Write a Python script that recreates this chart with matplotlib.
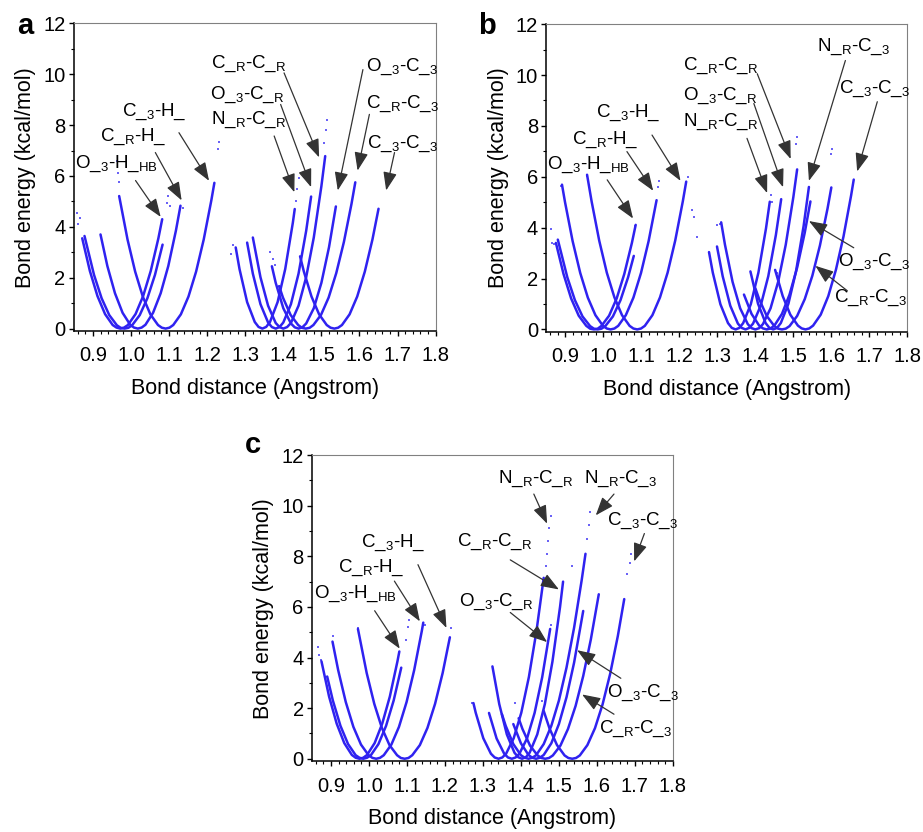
import matplotlib
matplotlib.use('Agg')
import matplotlib.pyplot as plt
from matplotlib.ticker import MultipleLocator

plt.rcParams['font.family'] = ['Liberation Sans', 'DejaVu Sans']
plt.rcParams['mathtext.fontset'] = 'custom'
plt.rcParams['mathtext.rm'] = 'Liberation Sans'

# ---------------- panel a ----------------
a_names = ['O_3-H_HB', 'O_3-H_', 'C_R-H_', 'C_3-H_',
           'N_R-C_R', 'O_3-C_R', 'C_R-C_R', 'O_3-C_3', 'C_R-C_3', 'C_3-C_3']
a_x = [
    [0.872, 0.892, 0.912, 0.932, 0.952, 0.962, 0.972, 0.982, 0.992, 1.012, 1.032, 1.052, 1.072, 1.082],
    [0.878, 0.903, 0.923, 0.943, 0.963, 0.973, 0.983, 0.993, 1.003, 1.023, 1.043, 1.063, 1.083],
    [0.920, 0.938, 0.958, 0.978, 0.998, 1.008, 1.018, 1.028, 1.038, 1.058, 1.078, 1.098, 1.118, 1.130],
    [0.969, 0.991, 1.011, 1.031, 1.051, 1.071, 1.081, 1.091, 1.101, 1.111, 1.131, 1.151, 1.171, 1.191, 1.211, 1.219],
    [1.275, 1.285, 1.305, 1.325, 1.335, 1.345, 1.355, 1.365, 1.385, 1.405, 1.425, 1.430],
    [1.305, 1.320, 1.340, 1.360, 1.370, 1.380, 1.390, 1.400, 1.420, 1.440, 1.460, 1.473],
    [1.320, 1.340, 1.360, 1.380, 1.390, 1.400, 1.410, 1.420, 1.440, 1.460, 1.480, 1.500, 1.510],
    [1.370, 1.380, 1.400, 1.420, 1.430, 1.440, 1.450, 1.460, 1.480, 1.500, 1.520, 1.538],
    [1.389, 1.399, 1.419, 1.439, 1.449, 1.459, 1.469, 1.479, 1.499, 1.519, 1.539, 1.559, 1.579, 1.589],
    [1.444, 1.454, 1.474, 1.494, 1.514, 1.524, 1.534, 1.544, 1.554, 1.574, 1.594, 1.614, 1.634, 1.650],
]
a_e = [
    [3.55, 2.27, 1.28, 0.57, 0.14, 0.04, 0.0, 0.04, 0.14, 0.57, 1.28, 2.27, 3.55, 4.30],
    [3.64, 2.11, 1.19, 0.53, 0.13, 0.03, 0.0, 0.03, 0.13, 0.53, 1.19, 2.11, 3.30],
    [3.70, 2.46, 1.39, 0.62, 0.15, 0.04, 0.0, 0.04, 0.15, 0.62, 1.39, 2.46, 3.85, 4.83],
    [5.21, 3.50, 2.24, 1.26, 0.56, 0.14, 0.035, 0.0, 0.035, 0.14, 0.56, 1.26, 2.24, 3.50, 5.04, 5.73],
    [3.19, 2.34, 1.04, 0.26, 0.065, 0.0, 0.065, 0.26, 1.04, 2.34, 4.16, 4.70],
    [3.38, 2.16, 0.96, 0.24, 0.06, 0.0, 0.06, 0.24, 0.96, 2.16, 3.84, 5.19],
    [3.58, 2.02, 0.90, 0.22, 0.06, 0.0, 0.06, 0.22, 0.90, 2.02, 3.58, 5.60, 6.78],
    [2.45, 1.80, 0.80, 0.20, 0.05, 0.0, 0.05, 0.20, 0.80, 1.80, 3.20, 4.80],
    [1.67, 1.22, 0.54, 0.14, 0.03, 0.0, 0.03, 0.14, 0.54, 1.22, 2.18, 3.40, 4.90, 5.75],
    [2.84, 2.24, 1.26, 0.56, 0.14, 0.035, 0.0, 0.035, 0.14, 0.56, 1.26, 2.24, 3.50, 4.71],
]
a_sparse_x = [0.858, 0.862, 0.866, 0.963, 0.966, 0.968, 1.094, 1.098, 1.102, 1.137, 1.228, 1.232,
              1.263, 1.268, 1.365, 1.372, 1.378, 1.433, 1.437, 1.441, 1.506, 1.512, 1.516]
a_sparse_e = [4.55, 4.10, 4.35, 6.60, 6.10, 5.75, 4.95, 5.20, 4.80, 4.75, 7.05, 7.35,
              2.95, 3.30, 3.00, 2.75, 2.50, 5.00, 5.50, 5.90, 7.30, 7.80, 8.20]

# ---------------- panel b ----------------
b_names = ['O_3-H_HB', 'O_3-H_', 'C_R-H_', 'C_3-H_', 'N_R-C_R', 'O_3-C_R', 'C_R-C_R',
           'O_3-C_3', 'N_R-C_3', 'C_R-C_3', 'C_3-C_3']
b_x = [
    [0.875, 0.895, 0.915, 0.935, 0.955, 0.965, 0.975, 0.985, 0.995, 1.015, 1.035, 1.055, 1.075, 1.085],
    [0.880, 0.905, 0.925, 0.945, 0.965, 0.975, 0.985, 0.995, 1.005, 1.025, 1.045, 1.065, 1.080],
    [0.891, 0.899, 0.919, 0.939, 0.959, 0.979, 0.999, 1.009, 1.019, 1.029, 1.039, 1.059, 1.079, 1.099, 1.119, 1.140],
    [0.957, 0.969, 0.989, 1.009, 1.029, 1.049, 1.069, 1.079, 1.089, 1.099, 1.109, 1.129, 1.149, 1.169, 1.189, 1.209, 1.218],
    [1.278, 1.288, 1.308, 1.328, 1.338, 1.348, 1.358, 1.368, 1.388, 1.408, 1.428, 1.438],
    [1.299, 1.314, 1.334, 1.354, 1.364, 1.374, 1.384, 1.394, 1.414, 1.434, 1.454, 1.468],
    [1.310, 1.320, 1.340, 1.360, 1.380, 1.390, 1.400, 1.410, 1.420, 1.440, 1.460, 1.480, 1.500, 1.510],
    [1.370, 1.390, 1.410, 1.420, 1.430, 1.440, 1.450, 1.470, 1.490, 1.510, 1.530, 1.545],
    [1.387, 1.407, 1.427, 1.437, 1.447, 1.457, 1.467, 1.487, 1.507, 1.527, 1.541],
    [1.400, 1.410, 1.430, 1.450, 1.460, 1.470, 1.480, 1.490, 1.510, 1.530, 1.550, 1.570, 1.590, 1.600],
    [1.452, 1.472, 1.492, 1.512, 1.522, 1.532, 1.542, 1.552, 1.572, 1.592, 1.612, 1.632, 1.652, 1.659],
]
b_e = [
    [3.40, 2.18, 1.22, 0.54, 0.14, 0.03, 0.0, 0.03, 0.14, 0.54, 1.22, 2.18, 3.40, 4.11],
    [3.53, 2.05, 1.15, 0.51, 0.13, 0.03, 0.0, 0.03, 0.13, 0.51, 1.15, 2.05, 2.89],
    [5.69, 5.00, 3.47, 2.22, 1.25, 0.56, 0.14, 0.035, 0.0, 0.035, 0.14, 0.56, 1.25, 2.22, 3.47, 5.08],
    [6.08, 5.03, 3.49, 2.23, 1.26, 0.56, 0.14, 0.035, 0.0, 0.035, 0.14, 0.56, 1.26, 2.23, 3.49, 5.03, 5.81],
    [3.04, 2.23, 0.99, 0.25, 0.06, 0.0, 0.06, 0.25, 0.99, 2.23, 3.97, 5.02],
    [3.26, 2.09, 0.93, 0.23, 0.06, 0.0, 0.06, 0.23, 0.93, 2.09, 3.71, 5.12],
    [4.21, 3.33, 1.87, 0.83, 0.21, 0.05, 0.0, 0.05, 0.21, 0.83, 1.87, 3.33, 5.20, 6.29],
    [1.37, 0.61, 0.15, 0.04, 0.0, 0.04, 0.15, 0.61, 1.37, 2.43, 3.80, 5.03],
    [2.28, 1.01, 0.25, 0.06, 0.0, 0.06, 0.25, 1.01, 2.28, 4.06, 5.60],
    [1.62, 1.19, 0.53, 0.13, 0.03, 0.0, 0.03, 0.13, 0.53, 1.19, 2.11, 3.30, 4.75, 5.58],
    [2.34, 1.31, 0.58, 0.15, 0.04, 0.0, 0.04, 0.15, 0.58, 1.31, 2.34, 3.65, 5.26, 5.89],
]
b_sparse_x = [0.861, 0.865, 0.871, 0.889, 0.958, 1.082, 1.143, 1.147, 1.222, 1.234, 1.238, 1.246,
              1.298, 1.306, 1.441, 1.445, 1.506, 1.510, 1.598, 1.602, 1.458, 1.462]
b_sparse_e = [3.95, 3.40, 3.35, 5.65, 6.05, 4.05, 5.60, 5.85, 6.00, 4.70, 4.40, 3.65,
              4.10, 4.15, 5.30, 5.00, 7.30, 7.58, 6.90, 7.10, 2.20, 1.90]

# ---------------- panel c ----------------
c_names = ['O_3-H_HB', 'O_3-H_', 'C_R-H_', 'C_3-H_', 'N_R-C_R', 'O_3-C_R', 'C_R-C_R',
           'N_R-C_3', 'O_3-C_3', 'C_R-C_3', 'C_3-C_3']
c_x = [
    [0.875, 0.895, 0.915, 0.935, 0.955, 0.965, 0.975, 0.985, 0.995, 1.015, 1.035, 1.055, 1.075, 1.080],
    [0.890, 0.905, 0.925, 0.945, 0.965, 0.975, 0.985, 0.995, 1.005, 1.025, 1.045, 1.065, 1.085],
    [0.904, 0.919, 0.939, 0.959, 0.979, 0.999, 1.009, 1.019, 1.029, 1.039, 1.059, 1.079, 1.099, 1.119, 1.139, 1.143],
    [0.971, 0.994, 1.014, 1.034, 1.054, 1.074, 1.084, 1.094, 1.104, 1.114, 1.134, 1.154, 1.174, 1.194, 1.213],
    [1.275, 1.281, 1.301, 1.321, 1.331, 1.341, 1.351, 1.361, 1.381, 1.401, 1.421, 1.441, 1.460],
    [1.316, 1.336, 1.356, 1.366, 1.376, 1.386, 1.396, 1.416, 1.436, 1.456, 1.477],
    [1.325, 1.343, 1.363, 1.383, 1.393, 1.403, 1.413, 1.423, 1.443, 1.463, 1.483, 1.503, 1.511],
    [1.350, 1.360, 1.380, 1.400, 1.410, 1.420, 1.430, 1.440, 1.460, 1.480, 1.500, 1.520, 1.540, 1.560, 1.570],
    [1.380, 1.400, 1.420, 1.430, 1.440, 1.450, 1.460, 1.480, 1.500, 1.520, 1.540, 1.564],
    [1.394, 1.404, 1.424, 1.444, 1.454, 1.464, 1.474, 1.484, 1.504, 1.524, 1.544, 1.564, 1.584, 1.605],
    [1.460, 1.475, 1.495, 1.515, 1.525, 1.535, 1.545, 1.555, 1.575, 1.595, 1.615, 1.635, 1.655, 1.672],
]
c_e = [
    [3.85, 2.46, 1.39, 0.62, 0.15, 0.04, 0.0, 0.04, 0.15, 0.62, 1.39, 2.46, 3.85, 4.24],
    [3.25, 2.30, 1.30, 0.58, 0.14, 0.04, 0.0, 0.04, 0.14, 0.58, 1.30, 2.30, 3.60],
    [4.63, 3.50, 2.24, 1.26, 0.56, 0.14, 0.035, 0.0, 0.035, 0.14, 0.56, 1.26, 2.24, 3.50, 5.04, 5.38],
    [5.13, 3.39, 2.17, 1.22, 0.54, 0.14, 0.03, 0.0, 0.03, 0.14, 0.54, 1.22, 2.17, 3.39, 4.80],
    [2.20, 1.82, 0.81, 0.20, 0.05, 0.0, 0.05, 0.20, 0.81, 1.82, 3.23, 5.05, 7.15],
    [1.81, 0.80, 0.20, 0.05, 0.0, 0.05, 0.20, 0.80, 1.81, 3.22, 5.13],
    [3.65, 2.16, 0.96, 0.24, 0.06, 0.0, 0.06, 0.24, 0.96, 2.16, 3.84, 6.00, 7.00],
    [1.76, 1.30, 0.58, 0.14, 0.04, 0.0, 0.04, 0.14, 0.58, 1.30, 2.30, 3.60, 5.18, 7.06, 8.10],
    [1.37, 0.61, 0.15, 0.04, 0.0, 0.04, 0.15, 0.61, 1.37, 2.43, 3.80, 5.84],
    [1.60, 1.18, 0.52, 0.13, 0.03, 0.0, 0.03, 0.13, 0.52, 1.18, 2.09, 3.27, 4.71, 6.50],
    [1.89, 1.21, 0.54, 0.13, 0.03, 0.0, 0.03, 0.13, 0.54, 1.21, 2.15, 3.36, 4.84, 6.31],
]
c_sparse_x = [0.866, 0.869, 0.873, 0.905, 0.972, 1.097, 1.102, 1.106, 1.147, 1.215, 1.270,
              1.465, 1.468, 1.471, 1.474, 1.478, 1.574, 1.578, 1.583, 1.680, 1.686, 1.690,
              1.535, 1.456, 1.384, 1.478]
c_sparse_e = [4.40, 4.10, 3.90, 4.85, 5.15, 4.70, 5.20, 5.50, 5.30, 5.15, 2.20,
              7.60, 8.10, 8.60, 9.10, 9.60, 8.70, 9.25, 9.75, 7.30, 7.75, 8.10,
              7.60, 2.30, 2.20, 5.30]

# label text for each bond type
labels = {
    'O_3-H_HB': r'O_$_\mathregular{3}$-H_$_\mathregular{HB}$',
    'C_R-H_': r'C_$_\mathregular{R}$-H_',
    'C_3-H_': r'C_$_\mathregular{3}$-H_',
    'N_R-C_R': r'N_$_\mathregular{R}$-C_$_\mathregular{R}$',
    'O_3-C_R': r'O_$_\mathregular{3}$-C_$_\mathregular{R}$',
    'C_R-C_R': r'C_$_\mathregular{R}$-C_$_\mathregular{R}$',
    'O_3-C_3': r'O_$_\mathregular{3}$-C_$_\mathregular{3}$',
    'C_R-C_3': r'C_$_\mathregular{R}$-C_$_\mathregular{3}$',
    'C_3-C_3': r'C_$_\mathregular{3}$-C_$_\mathregular{3}$',
    'N_R-C_3': r'N_$_\mathregular{R}$-C_$_\mathregular{3}$',
}

# (bond, text centre, arrow tail, arrow tip) in data coords
a_notes = [
    ('C_3-H_', (1.060, 8.53), (1.126, 7.70), (1.205, 5.81)),
    ('C_R-H_', (1.007, 7.52), (1.064, 6.92), (1.133, 5.04)),
    ('O_3-H_HB', (0.962, 6.47), (1.012, 5.82), (1.078, 4.39)),
    ('C_R-C_R', (1.308, 10.40), (1.402, 10.05), (1.494, 6.73)),
    ('O_3-C_R', (1.305, 9.20), (1.393, 8.81), (1.473, 5.56)),
    ('N_R-C_R', (1.308, 8.22), (1.376, 7.57), (1.429, 5.36)),
    ('O_3-C_3', (1.713, 10.30), (1.609, 10.18), (1.543, 5.43)),
    ('C_R-C_3', (1.713, 8.85), (1.626, 8.42), (1.595, 6.21)),
    ('C_3-C_3', (1.713, 7.25), (1.692, 6.92), (1.670, 5.43)),
]
b_notes = [
    ('C_3-H_', (1.065, 8.53), (1.128, 7.64), (1.203, 5.84)),
    ('C_R-H_', (1.005, 7.47), (1.062, 6.99), (1.131, 5.45)),
    ('O_3-H_HB', (0.961, 6.46), (1.010, 5.88), (1.078, 4.36)),
    ('C_R-C_R', (1.310, 10.37), (1.405, 10.05), (1.493, 6.70)),
    ('O_3-C_R', (1.308, 9.20), (1.396, 8.88), (1.473, 5.59)),
    ('N_R-C_R', (1.310, 8.16), (1.378, 7.51), (1.431, 5.36)),
    ('N_R-C_3', (1.659, 11.09), (1.637, 10.57), (1.541, 5.84)),
    ('C_3-C_3', (1.713, 9.46), (1.721, 8.95), (1.668, 6.21)),
    ('O_3-C_3', (1.713, 2.67), (1.659, 3.21), (1.541, 4.26)),
    ('C_R-C_3', (1.703, 1.23), (1.642, 1.52), (1.558, 2.50)),
]
c_notes = [
    ('C_3-H_', (1.063, 8.55), (1.129, 7.67), (1.204, 5.17)),
    ('C_R-H_', (1.006, 7.54), (1.067, 7.02), (1.134, 5.43)),
    ('O_3-H_HB', (0.964, 6.50), (1.015, 5.85), (1.081, 4.35)),
    ('N_R-C_R', (1.438, 11.05), (1.434, 10.46), (1.469, 9.29)),
    ('N_R-C_3', (1.663, 11.05), (1.645, 10.46), (1.597, 9.62)),
    ('C_3-C_3', (1.720, 9.42), (1.725, 8.90), (1.698, 7.80)),
    ('C_R-C_R', (1.330, 8.58), (1.372, 7.86), (1.500, 6.69)),
    ('O_3-C_R', (1.334, 6.21), (1.372, 5.78), (1.469, 4.61)),
    ('O_3-C_3', (1.722, 2.60), (1.663, 3.18), (1.548, 4.29)),
    ('C_R-C_3', (1.702, 1.20), (1.645, 1.76), (1.561, 2.54)),
]

panels = [
    ('a', [0.080, 0.602, 0.392, 0.370], (0.027, 0.959), a_x, a_e, a_sparse_x, a_sparse_e, a_notes),
    ('b', [0.592, 0.601, 0.391, 0.370], (0.528, 0.959), b_x, b_e, b_sparse_x, b_sparse_e, b_notes),
    ('c', [0.338, 0.085, 0.391, 0.368], (0.274, 0.456), c_x, c_e, c_sparse_x, c_sparse_e, c_notes),
]

curve_color = '#2f22f0'

fig = plt.figure(figsize=(9.23, 8.32), dpi=100)

for letter, rect, lpos, xs, es, sx, se, notes in panels:
    ax = fig.add_axes(rect)
    for x, e in zip(xs, es):
        ax.plot(x, e, color=curve_color, lw=1.8, solid_capstyle='round')
    ax.scatter(sx, se, s=4, color='#6a62f6', marker='s', linewidths=0)

    for bond, tpos, tail, tip in notes:
        ax.text(tpos[0], tpos[1], labels[bond], fontsize=13.5, ha='center', va='center')
        ax.annotate('', xy=tip, xytext=tail,
                    arrowprops=dict(arrowstyle='-|>,head_length=0.8,head_width=0.3',
                                    color='#333333', lw=0.9, shrinkA=0, shrinkB=0,
                                    mutation_scale=14),
                    annotation_clip=False)

    ax.set_xlim(0.85, 1.8)
    ax.set_ylim(-0.1, 12)
    ax.xaxis.set_minor_locator(MultipleLocator(0.02))
    ax.yaxis.set_major_locator(MultipleLocator(2))
    ax.yaxis.set_minor_locator(MultipleLocator(1))
    ax.set_xticks([0.9, 1.0, 1.1, 1.2, 1.3, 1.4, 1.5, 1.6, 1.7, 1.8])
    ax.set_xticklabels(['0.9', '1.0', '1.1', '1.2', '1.3', '1.4', '1.5', '1.6', '1.7', '1.8'])
    ax.tick_params(which='major', direction='out', length=3.5, width=1, labelsize=14.5)
    ax.tick_params(which='minor', direction='out', length=2.2, width=0.8)
    ax.tick_params(axis='y', which='major', pad=2.5)
    ax.tick_params(axis='x', which='major', pad=7.5)
    for s in ['top', 'right']:
        ax.spines[s].set_color('#808080')
    for s in ['left', 'bottom']:
        ax.spines[s].set_linewidth(1.1)
    ax.set_xlabel('Bond distance (Angstrom)', fontsize=15.5, labelpad=9)
    ax.set_ylabel('Bond energy (kcal/mol)', fontsize=15.5, labelpad=5)

    fig.text(lpos[0], lpos[1], letter, fontsize=21, fontweight='bold',
             ha='center', va='baseline')

fig.savefig('out.png', dpi=100)
